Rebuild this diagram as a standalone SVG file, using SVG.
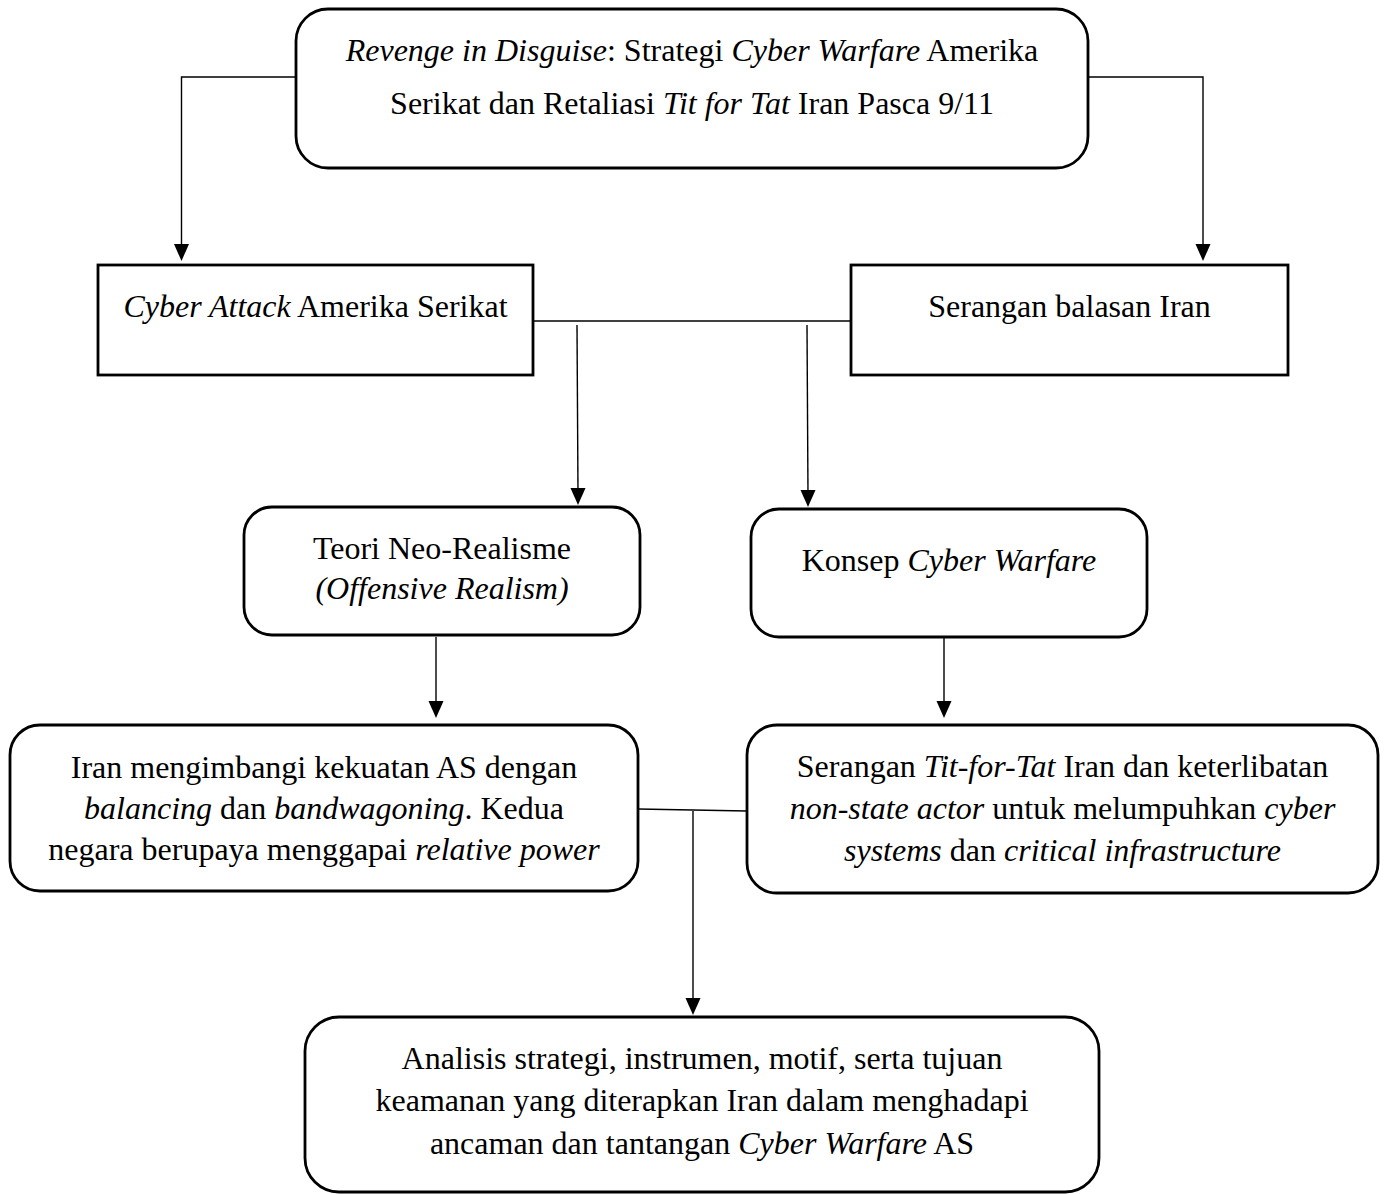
<svg xmlns="http://www.w3.org/2000/svg" width="1384" height="1194" viewBox="0 0 1384 1194">
<style>
.box{fill:#fff;stroke:#000;stroke-width:2.8}
.t{font-family:"Liberation Serif","Times New Roman",serif;font-size:32px;fill:#000;text-anchor:middle}
.i{font-style:italic}
.c{fill:none;stroke:#000;stroke-width:1.4}
.ah{fill:#000}
</style>
<rect width="1384" height="1194" fill="#fff"/>
<g id="connectors">
<path class="c" d="M296,77 H181.5 V250"/>
<path class="ah" d="M174,244 L189,244 L181.5,261 Z"/>
<path class="c" d="M1088,77 H1203 V250"/>
<path class="ah" d="M1195.5,244 L1210.5,244 L1203,261 Z"/>
<path class="c" d="M533,321 H851"/>
<path class="c" d="M577,325 L578,495"/>
<path class="ah" d="M570.5,488 L585.5,488 L578,505 Z"/>
<path class="c" d="M807,325 L808,497"/>
<path class="ah" d="M800.5,490 L815.5,490 L808,507 Z"/>
<path class="c" d="M436,637 V708"/>
<path class="ah" d="M428.5,701 L443.5,701 L436,718 Z"/>
<path class="c" d="M944,638 V708"/>
<path class="ah" d="M936.5,701 L951.5,701 L944,718 Z"/>
<path class="c" d="M638,809 L747,811"/>
<path class="c" d="M693,811 V1005"/>
<path class="ah" d="M685.5,998 L700.5,998 L693,1015 Z"/>
</g>
<g id="n-title">
<rect class="box" x="296" y="9" width="792" height="159" rx="32"/>
<text class="t" x="692" y="61"><tspan class="i">Revenge in Disguise</tspan>: Strategi <tspan class="i">Cyber Warfare</tspan> Amerika</text>
<text class="t" x="692" y="114">Serikat dan Retaliasi <tspan class="i">Tit for Tat</tspan> Iran Pasca 9/11</text>
</g>
<g id="n-us">
<rect class="box" x="98" y="265" width="435" height="110"/>
<text class="t" x="315.5" y="317"><tspan class="i">Cyber Attack</tspan> Amerika Serikat</text>
</g>
<g id="n-iran">
<rect class="box" x="851" y="265" width="437" height="110"/>
<text class="t" x="1069.5" y="317">Serangan balasan Iran</text>
</g>
<g id="n-teori">
<rect class="box" x="244" y="507" width="396" height="128" rx="28"/>
<text class="t" x="442" y="559">Teori Neo-Realisme</text>
<text class="t i" x="442" y="599">(Offensive Realism)</text>
</g>
<g id="n-konsep">
<rect class="box" x="751" y="509" width="396" height="128" rx="28"/>
<text class="t" x="949" y="571">Konsep <tspan class="i">Cyber Warfare</tspan></text>
</g>
<g id="n-balancing">
<rect class="box" x="10" y="725" width="628" height="166" rx="30"/>
<text class="t" x="324" y="778">Iran mengimbangi kekuatan AS dengan</text>
<text class="t" x="324" y="819"><tspan class="i">balancing</tspan> dan <tspan class="i">bandwagoning</tspan>. Kedua</text>
<text class="t" x="324" y="860">negara berupaya menggapai <tspan class="i">relative power</tspan></text>
</g>
<g id="n-titfortat">
<rect class="box" x="747" y="725" width="631" height="168" rx="30"/>
<text class="t" x="1062.5" y="777">Serangan <tspan class="i">Tit-for-Tat</tspan> Iran dan keterlibatan</text>
<text class="t" x="1062.5" y="819"><tspan class="i">non-state actor</tspan> untuk melumpuhkan <tspan class="i">cyber</tspan></text>
<text class="t" x="1062.5" y="861"><tspan class="i">systems</tspan> dan <tspan class="i">critical infrastructure</tspan></text>
</g>
<g id="n-analisis">
<rect class="box" x="305" y="1017" width="794" height="175" rx="34"/>
<text class="t" x="702" y="1069">Analisis strategi, instrumen, motif, serta tujuan</text>
<text class="t" x="702" y="1111">keamanan yang diterapkan Iran dalam menghadapi</text>
<text class="t" x="702" y="1154">ancaman dan tantangan <tspan class="i">Cyber Warfare</tspan> AS</text>
</g>
</svg>
